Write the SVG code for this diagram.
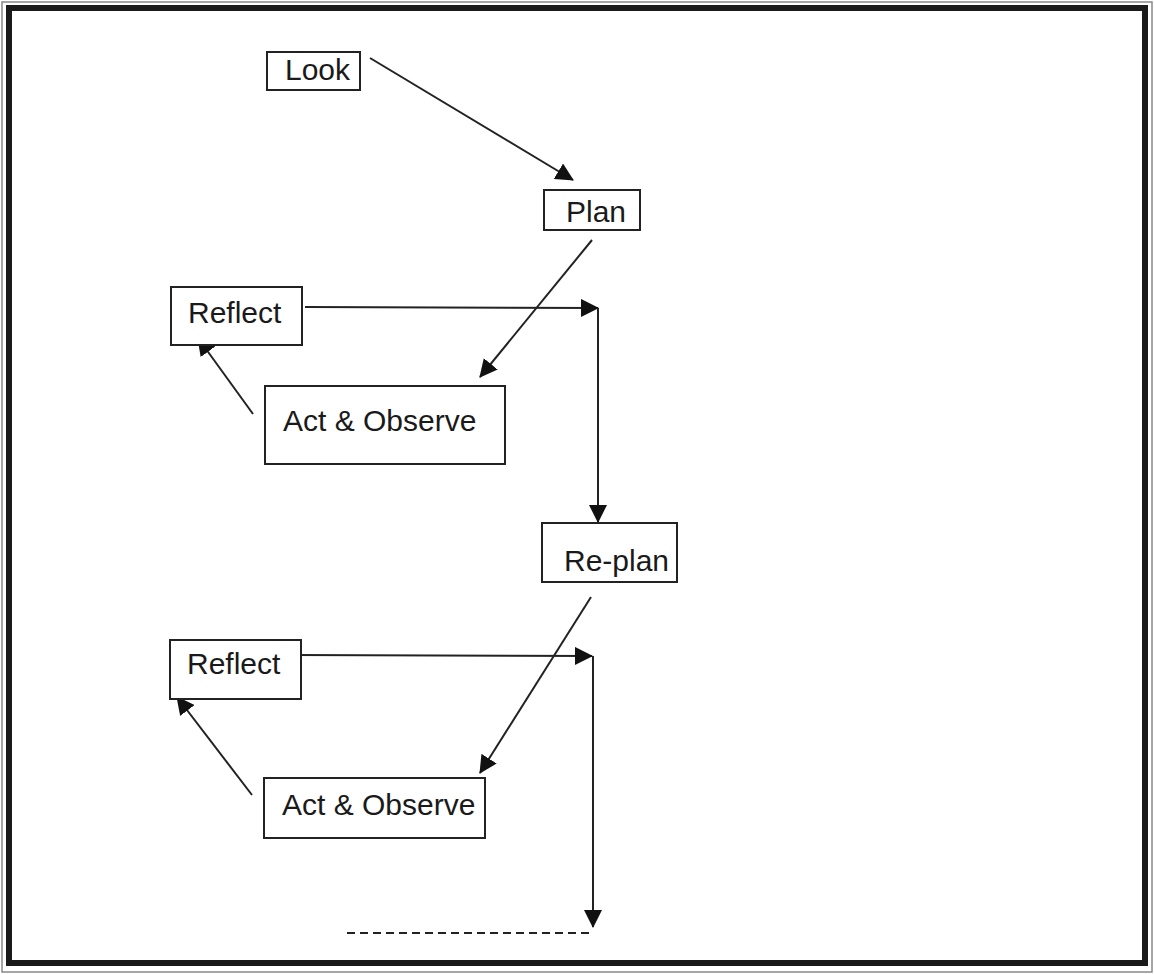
<svg xmlns="http://www.w3.org/2000/svg" width="1154" height="974" viewBox="0 0 1154 974">
<style>
.box{fill:#fff;stroke:#222;stroke-width:2}
.lbl{font-family:"Liberation Sans",Arial,sans-serif;font-size:30px;fill:#1a1a1a}
.ln{stroke:#222;stroke-width:2;fill:none}
</style>
<defs>
<marker id="ah" markerUnits="userSpaceOnUse" markerWidth="18" markerHeight="18" refX="17" refY="9" orient="auto">
<path d="M0,0 L18,9 L0,18 Z" fill="#111"/>
</marker>
</defs>
<rect x="0" y="0" width="1154" height="974" fill="#fff"/>
<rect x="2" y="2" width="1150" height="970" fill="none" stroke="#888" stroke-width="1.5"/>
<rect x="9" y="8" width="1136" height="955" fill="none" stroke="#1a1a1a" stroke-width="6"/>
<g id="connectors">
<line class="ln" x1="370" y1="58" x2="573" y2="180" marker-end="url(#ah)"/>
<line class="ln" x1="592" y1="240" x2="480" y2="377" marker-end="url(#ah)"/>
<line class="ln" x1="305" y1="307" x2="598" y2="308" marker-end="url(#ah)"/>
<line class="ln" x1="598" y1="308" x2="598" y2="522" marker-end="url(#ah)"/>
<line class="ln" x1="253" y1="414" x2="198" y2="338" marker-end="url(#ah)"/>
<line class="ln" x1="591" y1="597" x2="480" y2="773" marker-end="url(#ah)"/>
<line class="ln" x1="293" y1="655" x2="592" y2="656" marker-end="url(#ah)"/>
<line class="ln" x1="593" y1="656" x2="593" y2="927" marker-end="url(#ah)"/>
<line class="ln" x1="252" y1="795" x2="177" y2="697" marker-end="url(#ah)"/>
<line class="ln" x1="347" y1="933" x2="593" y2="933" stroke-dasharray="8,5"/>
</g>
<g id="look"><rect class="box" x="267" y="52" width="93" height="38"/><text class="lbl" x="285" y="80">Look</text></g>
<g id="plan"><rect class="box" x="544" y="190" width="96" height="40"/><text class="lbl" x="566" y="222">Plan</text></g>
<g id="reflect1"><rect class="box" x="171" y="287" width="131" height="58"/><text class="lbl" x="188" y="323">Reflect</text></g>
<g id="act1"><rect class="box" x="265" y="386" width="240" height="78"/><text class="lbl" x="283" y="431">Act &amp; Observe</text></g>
<g id="replan"><rect class="box" x="542" y="523" width="135" height="59"/><text class="lbl" x="564" y="571">Re-plan</text></g>
<g id="reflect2"><rect class="box" x="170" y="640" width="131" height="59"/><text class="lbl" x="187" y="674">Reflect</text></g>
<g id="act2"><rect class="box" x="264" y="778" width="221" height="60"/><text class="lbl" x="282" y="815">Act &amp; Observe</text></g>
</svg>
